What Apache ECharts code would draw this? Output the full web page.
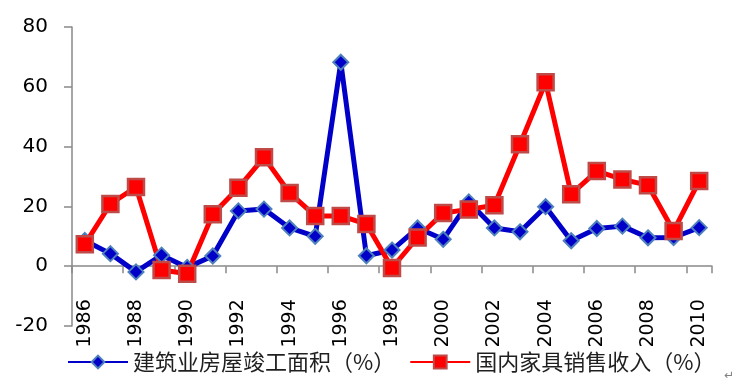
<!DOCTYPE html>
<html>
<head>
<meta charset="utf-8">
<script src="https://cdn.jsdelivr.net/npm/echarts@6/dist/echarts.min.js"></script>
<style>
html,body{margin:0;padding:0;background:#ffffff;}
#chart{width:743px;height:390px;}
</style>
</head>
<body>
<div id="chart"></div>
<script>
// categories (years)
const years = ['1986','1987','1988','1989','1990','1991','1992','1993','1994','1995','1996','1997','1998','1999','2000','2001','2002','2003','2004','2005','2006','2007','2008','2009','2010'];
// 建筑业房屋竣工面积（%）
const completedArea = [8.6, 4.2, -1.9, 3.7, -0.4, 3.4, 18.5, 19.1, 12.8, 10.0, 68.2, 3.5, 5.4, 12.8, 9.0, 21.5, 12.8, 11.5, 19.9, 8.5, 12.6, 13.4, 9.5, 9.6, 12.9];
// 国内家具销售收入（%）
const furnitureSales = [7.3, 20.8, 26.5, -1.3, -2.5, 17.4, 26.2, 36.4, 24.5, 16.8, 16.8, 14.1, -0.6, 9.6, 17.8, 19.0, 20.4, 40.8, 61.5, 24.1, 31.8, 29.0, 27.1, 11.8, 28.5];
// y-axis ticks
const yMin = -20, yMax = 80, yStep = 20;
const seriesNames = ['建筑业房屋竣工面积（%）', '国内家具销售收入（%）'];

const gridTop = 27, gridBottom = 64, chartH = 390;
const plotH = chartH - gridTop - gridBottom;
// distance from bottom edge of grid to the zero line
const zeroOffset = plotH * (0 - yMin) / (yMax - yMin);

const chart = echarts.init(document.getElementById('chart'));
chart.setOption({
  animation: false,
  backgroundColor: '#ffffff',
  grid: { left: 72, right: 31, top: gridTop, bottom: gridBottom, containLabel: false, outerBoundsMode: 'none' },
  xAxis: {
    type: 'category',
    data: years,
    boundaryGap: true,
    offset: -zeroOffset,
    axisLine: { onZero: false, lineStyle: { color: '#898989', width: 1.5 } },
    axisTick: { show: true, interval: 1, length: 7, lineStyle: { color: '#898989', width: 1.5 } },
    axisLabel: {
      interval: 1, rotate: 90, margin: 19, align: 'right', verticalAlign: 'middle',
      padding: [0, 14, 0, 0],
      fontFamily: 'DejaVu Sans', fontSize: 19, color: '#000000'
    },
    splitLine: { show: false }
  },
  yAxis: {
    type: 'value',
    min: yMin, max: yMax, interval: yStep,
    axisLine: { show: true, lineStyle: { color: '#898989', width: 1.5 } },
    axisTick: { show: true, length: 8, lineStyle: { color: '#898989', width: 1.5 } },
    axisLabel: { margin: 24, fontFamily: 'DejaVu Sans', fontSize: 20, color: '#000000' },
    splitLine: { show: false }
  },
  legend: {
    left: 67, top: 349, padding: 0, width: 700,
    itemWidth: 60, itemHeight: 16, itemGap: 14,
    textStyle: { fontFamily: 'Noto Sans CJK SC', fontSize: 22, color: '#1f1f1f', lineHeight: 26 },
    data: seriesNames
  },
  series: [
    {
      name: seriesNames[0],
      type: 'line',
      data: completedArea,
      symbol: 'diamond',
      symbolSize: 15,
      lineStyle: { color: '#0000c8', width: 5 },
      itemStyle: { color: '#0000c8', borderColor: '#4f81bd', borderWidth: 2 }
    },
    {
      name: seriesNames[1],
      type: 'line',
      data: furnitureSales,
      symbol: 'rect',
      symbolSize: 16,
      lineStyle: { color: '#ff0000', width: 5 },
      itemStyle: { color: '#ff0000', borderColor: '#be4b48', borderWidth: 2.5 }
    }
  ],
  graphic: [
    { type: 'text', left: 724, top: 370, style: { text: '↵', fontSize: 12, fill: '#808080', fontFamily: 'DejaVu Sans' } }
  ]
});
</script>
</body>
</html>
